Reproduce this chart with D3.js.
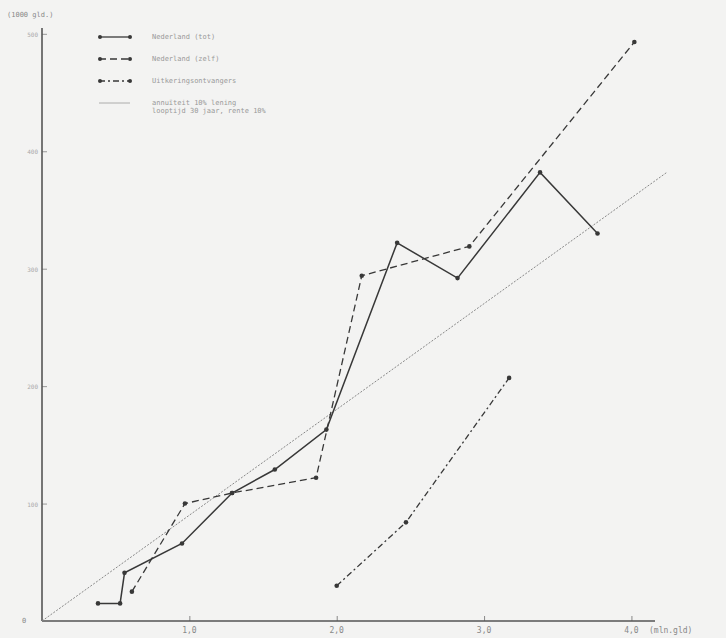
<!DOCTYPE html>
<html>
<head>
<meta charset="utf-8">
<script src="https://cdn.jsdelivr.net/npm/d3@7"></script>
<style>
  body { margin: 0; background: #f3f3f2; }
  svg { display: block; font-family: "DejaVu Sans Mono", monospace; }
</style>
</head>
<body>
<svg id="chart" width="726" height="638"></svg>
<script>
// values (x in mln gld, y in 1000 gld)
const solidX  = [0.38, 0.53, 0.56, 0.95, 1.29, 1.58, 1.93, 2.41, 2.82, 3.38, 3.77];
const solidY  = [15, 15, 41, 66, 109, 129, 163, 322, 292, 382, 330];
const dashX   = [0.61, 0.97, 1.29, 1.86, 2.17, 2.90, 4.02];
const dashY   = [25, 100, 109, 122, 294, 319, 493];
const dotDashX = [2.00, 2.47, 3.17];
const dotDashY = [30, 84, 207];
const refX = [0, 4.24];
const refY = [0, 382];

const xTicks = [1, 2, 3, 4];
const xTickLabels = ["1,0", "2,0", "3,0", "4,0"];
const yTicks = [100, 200, 300, 400, 500];
const legendLabels = [
  "Nederland (tot)",
  "Nederland (zelf)",
  "Uitkeringsontvangers",
  "annuïteit 10% lening",
];
const legendLabel2 = "looptijd 30 jaar, rente 10%";

const margin = { top: 35, right: 71, bottom: 16, left: 42 };
const width = 726, height = 638;

const svg = d3.select("#chart");

const x = d3.scaleLinear()
  .domain([0, 4.16])
  .range([margin.left, width - margin.right]);
const y = d3.scaleLinear()
  .domain([0, 499])
  .range([height - margin.bottom - 1, margin.top]);

const ink = "#383838";
const axisInk = "#555";

// small tick marks above the x axis
const xAxis = svg.append("g")
  .attr("transform", `translate(0,${y(0)})`)
  .call(d3.axisTop(x).tickValues(xTicks).tickSize(5).tickFormat(""))
  .call(g => g.select(".domain").remove());
xAxis.selectAll("line").attr("stroke", "#888");

svg.append("line")
  .attr("x1", x(0)).attr("x2", x(4.16))
  .attr("y1", y(0)).attr("y2", y(0))
  .attr("stroke", axisInk).attr("stroke-width", 1.6);

svg.append("g")
  .selectAll("text")
  .data(xTicks)
  .join("text")
  .attr("x", d => x(d))
  .attr("y", y(0) + 12)
  .attr("text-anchor", "middle")
  .attr("font-size", 8)
  .attr("fill", "#888")
  .text((d, i) => xTickLabels[i]);

svg.append("text")
  .attr("x", x(4.16) - 6)
  .attr("y", y(0) + 12)
  .attr("font-size", 8)
  .attr("fill", "#888")
  .text("(mln.gld)");

const yAxis = svg.append("g")
  .attr("transform", `translate(${x(0)},0)`)
  .call(d3.axisRight(y).tickValues(yTicks).tickSize(5).tickFormat(""))
  .call(g => g.select(".domain").remove());
yAxis.selectAll("line").attr("stroke", "#999");

svg.append("line")
  .attr("x1", x(0)).attr("x2", x(0))
  .attr("y1", y(0)).attr("y2", y(505))
  .attr("stroke", axisInk).attr("stroke-width", 1.6);

svg.append("g")
  .selectAll("text")
  .data(yTicks)
  .join("text")
  .attr("x", x(0) - 4)
  .attr("y", d => y(d) + 3)
  .attr("text-anchor", "end")
  .attr("font-size", 6)
  .attr("fill", "#aaa")
  .text(d => d);

svg.append("text")
  .attr("x", x(0) - 20)
  .attr("y", y(0) + 2)
  .attr("font-size", 7)
  .attr("fill", "#888")
  .text("0");

svg.append("text")
  .attr("x", 7)
  .attr("y", 17)
  .attr("font-size", 7)
  .attr("fill", "#888")
  .text("(1000 gld.)");

// series
const line = d3.line().x(d => x(d[0])).y(d => y(d[1]));
const zip = (xs, ys) => xs.map((v, i) => [v, ys[i]]);

svg.append("path")
  .datum(zip(refX, refY))
  .attr("d", line)
  .attr("fill", "none")
  .attr("stroke", "#888")
  .attr("stroke-width", 1)
  .attr("stroke-dasharray", "2,1.5");

const series = [
  { pts: zip(solidX, solidY), dash: null, w: 1.5 },
  { pts: zip(dashX, dashY), dash: "7,4", w: 1.3 },
  { pts: zip(dotDashX, dotDashY), dash: "6,3,2,3", w: 1.3 },
];

series.forEach(s => {
  svg.append("path")
    .datum(s.pts)
    .attr("d", line)
    .attr("fill", "none")
    .attr("stroke", ink)
    .attr("stroke-width", s.w)
    .attr("stroke-dasharray", s.dash);
  svg.append("g")
    .selectAll("circle")
    .data(s.pts)
    .join("circle")
    .attr("cx", d => x(d[0]))
    .attr("cy", d => y(d[1]))
    .attr("r", 2.3)
    .attr("fill", ink);
});

// legend
const legend = svg.append("g");
const legendRows = [37, 59, 81, 103];
const legendDash = [null, "7,4", "6,3,2,3", null];
legendRows.forEach((ly, i) => {
  legend.append("line")
    .attr("x1", 99).attr("x2", 130)
    .attr("y1", ly).attr("y2", ly)
    .attr("stroke", i === 3 ? "#999" : ink)
    .attr("stroke-width", i === 3 ? 0.8 : 1.3)
    .attr("stroke-dasharray", legendDash[i]);
  if (i < 3) {
    legend.append("circle").attr("cx", 100).attr("cy", ly).attr("r", 2).attr("fill", ink);
    legend.append("circle").attr("cx", 130).attr("cy", ly).attr("r", 2).attr("fill", ink);
  }
  legend.append("text")
    .attr("x", 152)
    .attr("y", ly + 2)
    .attr("font-size", 7)
    .attr("fill", "#999")
    .text(legendLabels[i]);
});
legend.append("text")
  .attr("x", 152)
  .attr("y", 113)
  .attr("font-size", 7)
  .attr("fill", "#999")
  .text(legendLabel2);
</script>
</body>
</html>
